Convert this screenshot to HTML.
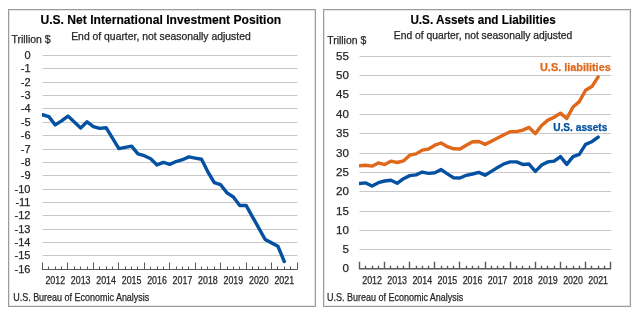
<!DOCTYPE html>
<html><head><meta charset="utf-8"><style>
html,body{margin:0;padding:0;background:#fff;width:638px;height:316px;overflow:hidden}
svg{display:block;font-family:"Liberation Sans", sans-serif;will-change:transform}
text{stroke-width:0.25px}
.title{font-size:12.4px;font-weight:bold;fill:#000;stroke:#000;stroke-width:0.15px}
.sub{font-size:10px;fill:#262626;stroke:#262626}
.unit{font-size:10.8px;fill:#262626;stroke:#262626}
.ax{font-size:11px;fill:#262626;stroke:#262626}
.yr{font-size:10px;fill:#262626;stroke:#262626}
.src{font-size:10.4px;fill:#262626;stroke:#262626}
.axr{font-size:11.6px}
.lab{font-size:10.2px;font-weight:bold}
</style></head><body>
<svg width="638" height="316" viewBox="0 0 638 316">
<defs><clipPath id="clpL"><rect x="42" y="40" width="270" height="240"/></clipPath><clipPath id="clpR"><rect x="359" y="40" width="270" height="240"/></clipPath></defs>
<rect x="8.5" y="9.5" width="307" height="297" fill="#fff" stroke="#979D9D" stroke-width="1"/>
<rect x="9.5" y="10.5" width="305" height="295" fill="none" stroke="#E3E6E6" stroke-width="1"/>
<rect x="323.5" y="9.5" width="307" height="297" fill="#fff" stroke="#979D9D" stroke-width="1"/>
<rect x="324.5" y="10.5" width="305" height="295" fill="none" stroke="#E3E6E6" stroke-width="1"/>
<line x1="42.5" x2="297.5" y1="55.5" y2="55.5" stroke="#C8C8C8" stroke-width="1"/>
<line x1="42.5" x2="297.5" y1="68.5" y2="68.5" stroke="#C8C8C8" stroke-width="1"/>
<line x1="42.5" x2="297.5" y1="82.5" y2="82.5" stroke="#C8C8C8" stroke-width="1"/>
<line x1="42.5" x2="297.5" y1="95.5" y2="95.5" stroke="#C8C8C8" stroke-width="1"/>
<line x1="42.5" x2="297.5" y1="108.5" y2="108.5" stroke="#C8C8C8" stroke-width="1"/>
<line x1="42.5" x2="297.5" y1="122.5" y2="122.5" stroke="#C8C8C8" stroke-width="1"/>
<line x1="42.5" x2="297.5" y1="135.5" y2="135.5" stroke="#C8C8C8" stroke-width="1"/>
<line x1="42.5" x2="297.5" y1="149.5" y2="149.5" stroke="#C8C8C8" stroke-width="1"/>
<line x1="42.5" x2="297.5" y1="162.5" y2="162.5" stroke="#C8C8C8" stroke-width="1"/>
<line x1="42.5" x2="297.5" y1="175.5" y2="175.5" stroke="#C8C8C8" stroke-width="1"/>
<line x1="42.5" x2="297.5" y1="189.5" y2="189.5" stroke="#C8C8C8" stroke-width="1"/>
<line x1="42.5" x2="297.5" y1="202.5" y2="202.5" stroke="#C8C8C8" stroke-width="1"/>
<line x1="42.5" x2="297.5" y1="215.5" y2="215.5" stroke="#C8C8C8" stroke-width="1"/>
<line x1="42.5" x2="297.5" y1="229.5" y2="229.5" stroke="#C8C8C8" stroke-width="1"/>
<line x1="42.5" x2="297.5" y1="242.5" y2="242.5" stroke="#C8C8C8" stroke-width="1"/>
<line x1="42.5" x2="297.5" y1="255.5" y2="255.5" stroke="#C8C8C8" stroke-width="1"/>
<path d="M42.0 269.5H297.5M42.5 269.5v-7M48.5 269.5v-3M55.5 269.5v-3M61.5 269.5v-3M67.5 269.5v-7M74.5 269.5v-3M80.5 269.5v-3M87.5 269.5v-3M93.5 269.5v-7M99.5 269.5v-3M106.5 269.5v-3M112.5 269.5v-3M118.5 269.5v-7M125.5 269.5v-3M131.5 269.5v-3M137.5 269.5v-3M144.5 269.5v-7M150.5 269.5v-3M157.5 269.5v-3M163.5 269.5v-3M169.5 269.5v-7M176.5 269.5v-3M182.5 269.5v-3M188.5 269.5v-3M195.5 269.5v-7M201.5 269.5v-3M207.5 269.5v-3M214.5 269.5v-3M220.5 269.5v-7M227.5 269.5v-3M233.5 269.5v-3M239.5 269.5v-3M246.5 269.5v-7M252.5 269.5v-3M258.5 269.5v-3M265.5 269.5v-3M271.5 269.5v-7M277.5 269.5v-3M284.5 269.5v-3M290.5 269.5v-3M297.5 269.5v-7" stroke="#595959" stroke-width="1" fill="none"/>
<text x="30.5" y="58.90" text-anchor="end" class="ax">0</text>
<text x="30.5" y="71.90" text-anchor="end" class="ax">-1</text>
<text x="30.5" y="85.90" text-anchor="end" class="ax">-2</text>
<text x="30.5" y="98.90" text-anchor="end" class="ax">-3</text>
<text x="30.5" y="111.90" text-anchor="end" class="ax">-4</text>
<text x="30.5" y="125.90" text-anchor="end" class="ax">-5</text>
<text x="30.5" y="138.90" text-anchor="end" class="ax">-6</text>
<text x="30.5" y="152.90" text-anchor="end" class="ax">-7</text>
<text x="30.5" y="165.90" text-anchor="end" class="ax">-8</text>
<text x="30.5" y="178.90" text-anchor="end" class="ax">-9</text>
<text x="30.5" y="192.90" text-anchor="end" class="ax">-10</text>
<text x="30.5" y="205.90" text-anchor="end" class="ax">-11</text>
<text x="30.5" y="218.90" text-anchor="end" class="ax">-12</text>
<text x="30.5" y="232.90" text-anchor="end" class="ax">-13</text>
<text x="30.5" y="245.90" text-anchor="end" class="ax">-14</text>
<text x="30.5" y="258.90" text-anchor="end" class="ax">-15</text>
<text x="30.5" y="272.90" text-anchor="end" class="ax">-16</text>
<text x="55.23" y="284.2" text-anchor="middle" class="yr" textLength="19.7" lengthAdjust="spacingAndGlyphs">2012</text>
<text x="80.67" y="284.2" text-anchor="middle" class="yr" textLength="19.7" lengthAdjust="spacingAndGlyphs">2013</text>
<text x="106.12" y="284.2" text-anchor="middle" class="yr" textLength="19.7" lengthAdjust="spacingAndGlyphs">2014</text>
<text x="131.57" y="284.2" text-anchor="middle" class="yr" textLength="19.7" lengthAdjust="spacingAndGlyphs">2015</text>
<text x="157.02" y="284.2" text-anchor="middle" class="yr" textLength="19.7" lengthAdjust="spacingAndGlyphs">2016</text>
<text x="182.47" y="284.2" text-anchor="middle" class="yr" textLength="19.7" lengthAdjust="spacingAndGlyphs">2017</text>
<text x="207.92" y="284.2" text-anchor="middle" class="yr" textLength="19.7" lengthAdjust="spacingAndGlyphs">2018</text>
<text x="233.38" y="284.2" text-anchor="middle" class="yr" textLength="19.7" lengthAdjust="spacingAndGlyphs">2019</text>
<text x="258.82" y="284.2" text-anchor="middle" class="yr" textLength="19.7" lengthAdjust="spacingAndGlyphs">2020</text>
<text x="284.27" y="284.2" text-anchor="middle" class="yr" textLength="19.7" lengthAdjust="spacingAndGlyphs">2021</text>
<polyline points="42.50,114.75 48.86,116.62 55.23,124.92 61.59,120.90 67.95,116.09 74.31,121.97 80.67,127.99 87.04,121.84 93.40,126.52 99.76,128.39 106.12,127.73 112.49,138.16 118.85,148.59 125.21,147.39 131.57,146.18 137.94,153.81 144.30,155.68 150.66,158.75 157.02,164.91 163.39,162.37 169.75,164.37 176.11,161.56 182.47,159.69 188.84,156.88 195.20,158.09 201.56,159.29 207.92,172.00 214.29,182.56 220.65,184.70 227.01,192.86 233.38,197.01 239.74,205.57 246.10,205.43 252.46,216.80 258.82,228.17 265.19,239.54 271.55,242.88 277.91,246.23 284.27,261.48" fill="none" stroke="#0451A2" stroke-width="3.4" stroke-linejoin="round" stroke-linecap="round" clip-path="url(#clpL)"/>
<text x="40.40" y="23.70" class="title" textLength="240.88" lengthAdjust="spacingAndGlyphs">U.S. Net International Investment Position</text>
<text x="71.20" y="39.75" class="sub" textLength="179.51" lengthAdjust="spacingAndGlyphs">End of quarter, not seasonally adjusted</text>
<text x="11.40" y="43.00" class="unit" textLength="39.23" lengthAdjust="spacingAndGlyphs">Trillion $</text>
<text x="13.20" y="300.50" class="src" textLength="136.12" lengthAdjust="spacingAndGlyphs">U.S. Bureau of Economic Analysis</text>
<line x1="359.5" x2="611.2" y1="249.5" y2="249.5" stroke="#C8C8C8" stroke-width="1"/>
<line x1="359.5" x2="611.2" y1="230.5" y2="230.5" stroke="#C8C8C8" stroke-width="1"/>
<line x1="359.5" x2="611.2" y1="211.5" y2="211.5" stroke="#C8C8C8" stroke-width="1"/>
<line x1="359.5" x2="611.2" y1="191.5" y2="191.5" stroke="#C8C8C8" stroke-width="1"/>
<line x1="359.5" x2="611.2" y1="172.5" y2="172.5" stroke="#C8C8C8" stroke-width="1"/>
<line x1="359.5" x2="611.2" y1="153.5" y2="153.5" stroke="#C8C8C8" stroke-width="1"/>
<line x1="359.5" x2="611.2" y1="133.5" y2="133.5" stroke="#C8C8C8" stroke-width="1"/>
<line x1="359.5" x2="611.2" y1="114.5" y2="114.5" stroke="#C8C8C8" stroke-width="1"/>
<line x1="359.5" x2="611.2" y1="94.5" y2="94.5" stroke="#C8C8C8" stroke-width="1"/>
<line x1="359.5" x2="611.2" y1="75.5" y2="75.5" stroke="#C8C8C8" stroke-width="1"/>
<line x1="359.5" x2="611.2" y1="56.5" y2="56.5" stroke="#C8C8C8" stroke-width="1"/>
<path d="M359.0 268.75H611.2M359.5 268.75v-7M365.5 268.75v-3M372.5 268.75v-3M378.5 268.75v-3M384.5 268.75v-7M390.5 268.75v-3M397.5 268.75v-3M403.5 268.75v-3M409.5 268.75v-7M416.5 268.75v-3M422.5 268.75v-3M428.5 268.75v-3M434.5 268.75v-7M441.5 268.75v-3M447.5 268.75v-3M453.5 268.75v-3M459.5 268.75v-7M466.5 268.75v-3M472.5 268.75v-3M478.5 268.75v-3M485.5 268.75v-7M491.5 268.75v-3M497.5 268.75v-3M503.5 268.75v-3M510.5 268.75v-7M516.5 268.75v-3M522.5 268.75v-3M529.5 268.75v-3M535.5 268.75v-7M541.5 268.75v-3M547.5 268.75v-3M554.5 268.75v-3M560.5 268.75v-7M566.5 268.75v-3M573.5 268.75v-3M579.5 268.75v-3M585.5 268.75v-7M591.5 268.75v-3M598.5 268.75v-3M604.5 268.75v-3M610.5 268.75v-7" stroke="#595959" stroke-width="1.4" fill="none"/>
<text x="349.0" y="272.10" text-anchor="end" class="ax axr">0</text>
<text x="349.0" y="253.10" text-anchor="end" class="ax axr">5</text>
<text x="349.0" y="234.10" text-anchor="end" class="ax axr">10</text>
<text x="349.0" y="215.10" text-anchor="end" class="ax axr">15</text>
<text x="349.0" y="195.10" text-anchor="end" class="ax axr">20</text>
<text x="349.0" y="176.10" text-anchor="end" class="ax axr">25</text>
<text x="349.0" y="157.10" text-anchor="end" class="ax axr">30</text>
<text x="349.0" y="137.10" text-anchor="end" class="ax axr">35</text>
<text x="349.0" y="118.10" text-anchor="end" class="ax axr">40</text>
<text x="349.0" y="98.10" text-anchor="end" class="ax axr">45</text>
<text x="349.0" y="79.10" text-anchor="end" class="ax axr">50</text>
<text x="349.0" y="60.10" text-anchor="end" class="ax axr">55</text>
<text x="372.06" y="284.2" text-anchor="middle" class="yr" textLength="19.7" lengthAdjust="spacingAndGlyphs">2012</text>
<text x="397.18" y="284.2" text-anchor="middle" class="yr" textLength="19.7" lengthAdjust="spacingAndGlyphs">2013</text>
<text x="422.30" y="284.2" text-anchor="middle" class="yr" textLength="19.7" lengthAdjust="spacingAndGlyphs">2014</text>
<text x="447.42" y="284.2" text-anchor="middle" class="yr" textLength="19.7" lengthAdjust="spacingAndGlyphs">2015</text>
<text x="472.54" y="284.2" text-anchor="middle" class="yr" textLength="19.7" lengthAdjust="spacingAndGlyphs">2016</text>
<text x="497.66" y="284.2" text-anchor="middle" class="yr" textLength="19.7" lengthAdjust="spacingAndGlyphs">2017</text>
<text x="522.78" y="284.2" text-anchor="middle" class="yr" textLength="19.7" lengthAdjust="spacingAndGlyphs">2018</text>
<text x="547.90" y="284.2" text-anchor="middle" class="yr" textLength="19.7" lengthAdjust="spacingAndGlyphs">2019</text>
<text x="573.02" y="284.2" text-anchor="middle" class="yr" textLength="19.7" lengthAdjust="spacingAndGlyphs">2020</text>
<text x="598.14" y="284.2" text-anchor="middle" class="yr" textLength="19.7" lengthAdjust="spacingAndGlyphs">2021</text>
<polyline points="359.50,165.78 365.78,165.20 372.06,166.16 378.34,162.96 384.62,164.58 390.90,161.15 397.18,162.50 403.46,160.96 409.74,155.18 416.02,153.87 422.30,150.09 428.58,149.01 434.86,145.19 441.14,143.00 447.42,146.70 453.70,148.78 459.98,149.01 466.26,145.31 472.54,141.69 478.82,141.49 485.10,144.38 491.38,141.15 497.66,137.91 503.94,134.67 510.22,131.66 516.50,131.66 522.78,130.12 529.06,127.42 535.34,133.59 541.62,125.50 547.90,120.10 554.18,117.21 560.46,113.16 566.74,118.56 573.02,106.99 579.30,101.60 585.58,90.23 591.86,86.57 598.14,76.93" fill="none" stroke="#E0681B" stroke-width="3.4" stroke-linejoin="round" stroke-linecap="round" clip-path="url(#clpR)"/>
<polyline points="359.50,183.51 365.78,182.93 372.06,186.01 378.34,182.70 384.62,181.00 390.90,180.31 397.18,183.31 403.46,178.69 409.74,175.61 416.02,174.83 422.30,172.06 428.58,173.41 434.86,172.71 441.14,169.59 447.42,173.87 453.70,177.92 459.98,178.00 466.26,175.30 472.54,173.99 478.82,172.41 485.10,175.30 491.38,171.37 497.66,167.40 503.94,163.89 510.22,161.88 516.50,161.88 522.78,164.43 529.06,164.04 535.34,171.37 541.62,165.08 547.90,161.88 554.18,161.07 560.46,156.64 566.74,164.43 573.02,156.60 579.30,154.41 585.58,144.38 591.86,141.69 598.14,137.06" fill="none" stroke="#0451A2" stroke-width="3.4" stroke-linejoin="round" stroke-linecap="round" clip-path="url(#clpR)"/>
<text x="410.40" y="23.50" class="title" textLength="145.42" lengthAdjust="spacingAndGlyphs">U.S. Assets and Liabilities</text>
<text x="393.80" y="39.35" class="sub" textLength="178.51" lengthAdjust="spacingAndGlyphs">End of quarter, not seasonally adjusted</text>
<text x="327.20" y="43.90" class="unit" textLength="39.04" lengthAdjust="spacingAndGlyphs">Trillion $</text>
<text x="327.00" y="300.50" class="src" textLength="136.33" lengthAdjust="spacingAndGlyphs">U.S. Bureau of Economic Analysis</text>
<text x="540.00" y="70.50" class="lab" textLength="70.74" lengthAdjust="spacingAndGlyphs" fill="#E0681B" stroke="#E0681B">U.S. liabilities</text>
<text x="553.20" y="131.10" class="lab" textLength="54.18" lengthAdjust="spacingAndGlyphs" fill="#0451A2" stroke="#0451A2">U.S. assets</text>
</svg>
</body></html>
